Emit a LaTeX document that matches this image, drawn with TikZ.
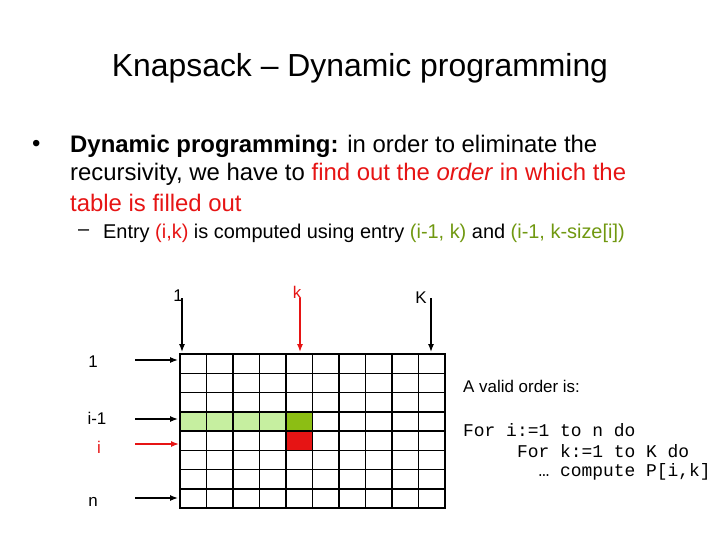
\documentclass[tikz,border=0pt]{standalone}
\usepackage{fontspec}
\setmainfont{Liberation Sans}
\newfontfamily\codefont{Liberation Mono}
\usetikzlibrary{positioning,arrows.meta}
\definecolor{hired}{RGB}{230,20,20}
\definecolor{litegreen}{RGB}{198,239,160}
\definecolor{darkgreen}{RGB}{140,190,20}
\tikzset{
  txt/.style={anchor=west, inner sep=0pt, font=\fontsize{24}{28}\selectfont},
  subtxt/.style={anchor=west, inner sep=0pt, font=\fontsize{20}{24}\selectfont},
  lbl/.style={inner sep=0pt, font=\fontsize{17}{20}\selectfont},
  codetxt/.style={anchor=west, inner sep=0pt, font=\codefont\fontsize{18}{21}\selectfont},
  pointer/.style={line width=1.3bp, -{Latex[length=8bp,width=6bp]}}
}
\begin{document}
\begin{tikzpicture}[x=1bp, y=-1bp]
    \useasboundingbox (0,0) rectangle (720,540);
    \node[inner sep=0pt, font=\fontsize{32}{36}\selectfont] (title) at (360,68) {Knapsack -- Dynamic programming};

    \node[txt] (bul) at (32,146) {\textbullet};
    \node[txt] (l1) at (70,146) {\textbf{Dynamic programming:} in order to eliminate the};
    \node[txt] (l2) at (70,174) {recursivity, we have to \textcolor{hired}{find out the \textit{order} in which the}};
    \node[txt] (l3) at (70,203) {\textcolor{hired}{table is filled out}};
    \node[subtxt] (dash) at (78,233) {--};
    \node[subtxt] (l4) at (103,233) {Entry \textcolor{hired}{(i,k)} is computed using entry \textcolor{darkgreen!80!black}{(i-1, k)} and \textcolor{darkgreen!80!black}{(i-1, k-size[i])}};

    % the table
    \fill[litegreen] (180,412) rectangle (286,431);
    \fill[darkgreen] (286,412) rectangle (313,431);
    \fill[hired] (286,431) rectangle (313,450);
    \foreach \c in {0,...,10}
      \draw[line width=1.5bp] ({180+26.5*\c},354) -- ({180+26.5*\c},508);
    \foreach \r in {0,...,8}
      \draw[line width=1.5bp] (180,{354+19.25*\r}) -- (445,{354+19.25*\r});
    \draw[line width=2bp] (180,354) rectangle (445,508);

    % column labels and arrows
    \node[lbl] (c1) at (178,296) {1};
    \node[lbl, text=hired] (ck) at (297,292) {k};
    \node[lbl] (cK) at (421,298) {K};
    \coordinate (c1a) at (182,298);
    \coordinate (c1b) at (182,352);
    \coordinate (cka) at (300,298);
    \coordinate (ckb) at (300,352);
    \coordinate (cKa) at (431,298);
    \coordinate (cKb) at (431,352);
    \draw[pointer] (c1a) -- (c1b);
    \draw[pointer, hired] (cka) -- (ckb);
    \draw[pointer] (cKa) -- (cKb);

    % row labels and arrows
    \node[lbl] (r1) at (93,362) {1};
    \node[lbl] (ri1) at (97,418) {i-1};
    \node[lbl, text=hired] (ri) at (99,447) {i};
    \node[lbl] (rn) at (93,502) {n};
    \coordinate (r1a) at (135,360);
    \coordinate (r1b) at (178,360);
    \coordinate (ri1a) at (135,419);
    \coordinate (ri1b) at (178,419);
    \coordinate (ria) at (135,444);
    \coordinate (rib) at (179,444);
    \coordinate (rna) at (135,498);
    \coordinate (rnb) at (178,498);
    \draw[pointer] (r1a) -- (r1b);
    \draw[pointer] (ri1a) -- (ri1b);
    \draw[pointer, hired] (ria) -- (rib);
    \draw[pointer] (rna) -- (rnb);

    % the order
    \node[lbl, anchor=west] (valid) at (463,386) {A valid order is:};
    \node[codetxt] (code1) at (463,430) {For i:=1 to n do};
    \node[codetxt] (code2) at (463,451) {\ \ \ \ \ For k:=1 to K do};
    \node[codetxt] (code3) at (463,472) {\ \ \ \ \ \ \ … compute P[i,k]};
\end{tikzpicture}
\end{document}
